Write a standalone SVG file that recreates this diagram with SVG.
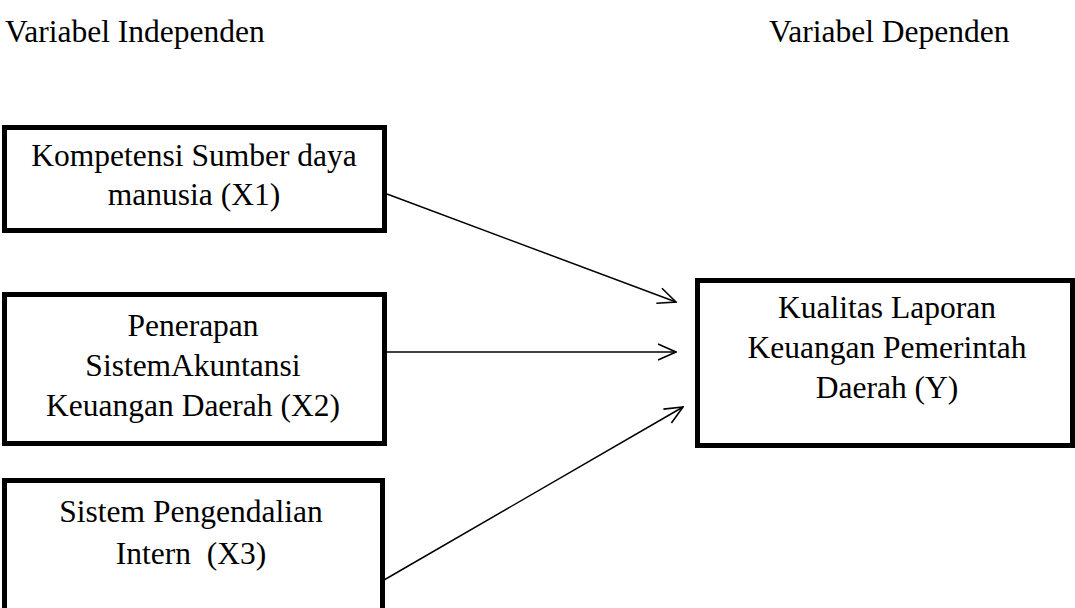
<svg xmlns="http://www.w3.org/2000/svg" width="1075" height="608" viewBox="0 0 1075 608">
<style>
.box{fill:#fff;stroke:#000;stroke-width:5}
.t{font-family:"Liberation Serif","Times New Roman",serif;font-size:31.5px;fill:#000}
.c{text-anchor:middle}
.ln{stroke:#000;stroke-width:1.5;fill:none}
</style>
<defs>
<marker id="arr" viewBox="0 0 20 20" refX="19" refY="10" markerWidth="20" markerHeight="20" markerUnits="userSpaceOnUse" orient="auto">
<path d="M1,2 L19,10 L1,18" fill="none" stroke="#000" stroke-width="1.6"/>
</marker>
</defs>
<rect width="1075" height="608" fill="#fff"/>
<text class="t" x="5" y="42">Variabel Independen</text>
<text class="t" x="769" y="42">Variabel Dependen</text>
<g id="connectors">
<line class="ln" x1="387" y1="194" x2="676" y2="302" marker-end="url(#arr)"/>
<line class="ln" x1="387" y1="352" x2="676" y2="352" marker-end="url(#arr)"/>
<line class="ln" x1="384" y1="580" x2="683" y2="407" marker-end="url(#arr)"/>
</g>
<g id="x1">
<rect class="box" x="4.5" y="127.5" width="380" height="103"/>
<text class="t c" x="194" y="166">Kompetensi Sumber daya</text>
<text class="t c" x="194" y="205">manusia (X1)</text>
</g>
<g id="x2">
<rect class="box" x="4.5" y="294.5" width="380" height="149"/>
<text class="t c" x="193" y="336">Penerapan</text>
<text class="t c" x="193" y="376">SistemAkuntansi</text>
<text class="t c" x="193" y="416">Keuangan Daerah (X2)</text>
</g>
<g id="x3">
<rect class="box" x="4.5" y="480.5" width="378" height="140"/>
<text class="t c" x="191" y="522">Sistem Pengendalian</text>
<text class="t c" x="191" y="564">Intern&#160; (X3)</text>
</g>
<g id="y">
<rect class="box" x="697.5" y="280.5" width="375" height="165"/>
<text class="t c" x="887" y="318">Kualitas Laporan</text>
<text class="t c" x="887" y="358">Keuangan Pemerintah</text>
<text class="t c" x="887" y="398">Daerah (Y)</text>
</g>
</svg>
